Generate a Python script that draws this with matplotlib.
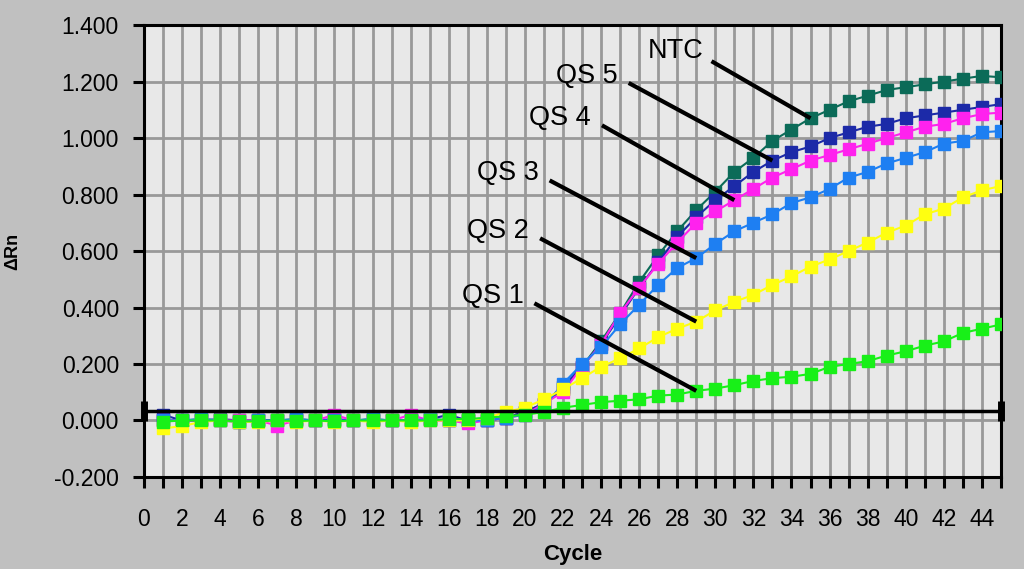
import numpy as np
import matplotlib
matplotlib.use("Agg")
import matplotlib.pyplot as plt

plt.rcParams['font.family'] = ['Liberation Sans', 'DejaVu Sans']

cycles = list(range(1, 46))

base = [0.0, 0.0, 0.005, 0.0, -0.005, 0.0, 0.0, 0.005, 0.0, 0.0,
        0.0, 0.005, 0.0, 0.0, 0.005, 0.0, 0.0, 0.0, 0.01]

ntc = base + [0.03, 0.06, 0.11, 0.19, 0.28, 0.38, 0.49, 0.585, 0.67, 0.745,
              0.81, 0.88, 0.93, 0.99, 1.03, 1.07, 1.10, 1.13, 1.15, 1.17,
              1.18, 1.19, 1.20, 1.21, 1.22, 1.215]
qs5 = [0.02, 0.0, 0.0, 0.005, 0.0, 0.0, 0.0, 0.0, 0.0, 0.005,
       0.0, 0.0, 0.0, 0.0, 0.005, 0.02, 0.0, 0.0, 0.01,
       0.03, 0.06, 0.12, 0.19, 0.27, 0.37, 0.47, 0.56, 0.65, 0.72,
       0.78, 0.83, 0.88, 0.92, 0.95, 0.97, 1.00, 1.02, 1.04, 1.05,
       1.07, 1.08, 1.09, 1.10, 1.11, 1.12]
qs4 = [0.0, 0.0, 0.0, 0.0, 0.0, 0.0, -0.018, 0.0, 0.0, 0.02,
       0.0, 0.0, 0.0, 0.02, 0.0, 0.0, -0.01, 0.0, 0.01,
       0.02, 0.06, 0.10, 0.19, 0.27, 0.38, 0.47, 0.555, 0.63, 0.70,
       0.74, 0.78, 0.82, 0.86, 0.89, 0.92, 0.94, 0.96, 0.98, 1.00,
       1.02, 1.04, 1.05, 1.07, 1.085, 1.09]
qs3 = base + [0.02, 0.05, 0.13, 0.20, 0.26, 0.34, 0.41, 0.48, 0.54, 0.575,
              0.625, 0.67, 0.70, 0.73, 0.77, 0.79, 0.82, 0.86, 0.88, 0.91,
              0.93, 0.95, 0.98, 0.99, 1.02, 1.025]
qs2 = [-0.028, -0.02, -0.005, 0.0, -0.005, -0.005, 0.0, -0.005, 0.0, -0.005,
       0.0, -0.005, 0.0, -0.005, 0.0, 0.0, 0.0, 0.01, 0.03,
       0.045, 0.075, 0.11, 0.15, 0.19, 0.22, 0.255, 0.295, 0.325, 0.35,
       0.39, 0.42, 0.445, 0.48, 0.51, 0.545, 0.57, 0.60, 0.63, 0.665,
       0.69, 0.73, 0.75, 0.79, 0.815, 0.83]
qs1 = [-0.004, 0.0, 0.0, 0.0, -0.003, -0.003, 0.0, -0.002, 0.0, -0.003,
       0.0, 0.0, 0.0, 0.0, 0.0, 0.005, 0.005, 0.01, 0.015,
       0.02, 0.03, 0.045, 0.055, 0.065, 0.07, 0.075, 0.088, 0.092, 0.105,
       0.113, 0.125, 0.14, 0.15, 0.155, 0.165, 0.19, 0.20, 0.21, 0.23,
       0.245, 0.265, 0.28, 0.31, 0.325, 0.34]

threshold = 0.032

# name, values, colour, cycle the pointer hits, label offset (cycles, dRn)
series = [
    ("NTC", ntc, "#0b6b58", 35, (-7.1, 0.237)),
    ("QS 5", qs5, "#1c2aa8", 33, (-9.75, 0.30)),
    ("QS 4", qs4, "#ff22ee", 31, (-9.15, 0.29)),
    ("QS 3", qs3, "#1e7ff2", 29, (-9.9, 0.30)),
    ("QS 2", qs2, "#ffff10", 29, (-10.4, 0.32)),
    ("QS 1", qs1, "#18f018", 29, (-10.7, 0.335)),
]

fig = plt.figure(figsize=(10.24, 5.69), dpi=100, facecolor="#c0c0c0")
ax = fig.add_axes([0.1406, 0.1617, 0.8369, 0.7943])
ax.set_facecolor("#e8e8e8")

for name, vals, col, _, _ in series:
    ax.plot(cycles, vals, color=col, lw=1.5, marker="s", ms=8.5,
            mec=col, mfc=col, zorder=3)

ax.plot([0, 45], [threshold, threshold], color="black", lw=2.5, zorder=4)
ax.plot([0, 45], [threshold, threshold], ls="none", marker="|", ms=14,
        mew=5, color="black", zorder=4, clip_on=False)

for name, vals, col, cyc, off in series:
    y = vals[cycles.index(cyc)]
    tx, ty = cyc + off[0], y + off[1]
    ax.text(tx, ty, name, fontsize=19.5, ha="center", va="center", zorder=6)
    ax.plot([tx + 2.2 if name != "NTC" else tx + 1.9, cyc],
            [ty - 0.025 if name != "NTC" else ty - 0.035, y],
            color="black", lw=3, zorder=5, solid_capstyle="butt")

ax.set_xlim(0, 45)
ax.set_ylim(-0.2, 1.4)
ax.set_xticks(range(0, 46))
ax.set_xticklabels([str(c) if c % 2 == 0 else "" for c in range(0, 46)])
yt = np.arange(-0.2, 1.41, 0.2)
ax.set_yticks(yt)
ax.set_yticklabels(["%.3f" % v for v in yt])
ax.grid(True, color="#999999", lw=2.0)
ax.set_axisbelow(True)
ax.tick_params(axis="both", direction="out", length=8, width=2.2,
               labelsize=16.5, color="black")
ax.tick_params(axis="y", pad=10)
ax.tick_params(axis="x", pad=14)
for s in ax.spines.values():
    s.set_color("black")
    s.set_linewidth(2.2)

ax.set_xlabel("Cycle", fontsize=16, fontweight="bold", labelpad=10)
ax.set_ylabel("\u0394Rn", fontsize=13, fontweight="bold")
ax.yaxis.set_label_coords(-0.1435, 0.50)

fig.savefig("out.png", dpi=100, facecolor=fig.get_facecolor())
